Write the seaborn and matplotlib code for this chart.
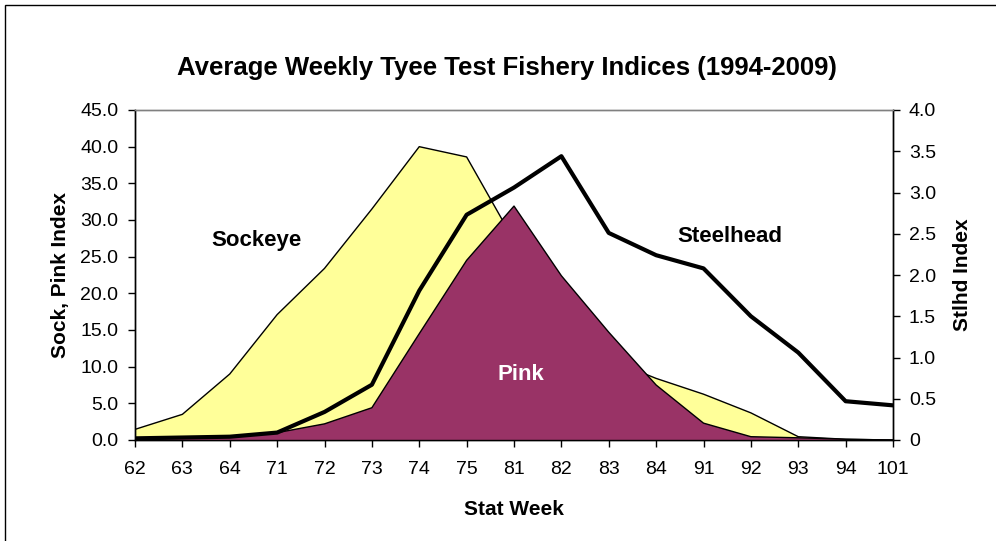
import matplotlib
matplotlib.use("Agg")
import matplotlib.pyplot as plt
import seaborn as sns
import pandas as pd
import numpy as np
from matplotlib.patches import Rectangle

weeks = ["62", "63", "64", "71", "72", "73", "74", "75", "81", "82", "83", "84", "91", "92", "93", "94", "101"]
sockeye = [1.45, 3.5, 9.0, 17.1, 23.4, 31.5, 40.0, 38.6, 27.2, 18.0, 11.0, 8.4, 6.25, 3.7, 0.45, 0.1, 0.0]
pink = [0.2, 0.4, 0.5, 1.0, 2.2, 4.4, 14.5, 24.5, 31.9, 22.4, 14.7, 7.5, 2.3, 0.45, 0.3, 0.1, 0.0]
steelhead = [0.02, 0.03, 0.04, 0.09, 0.34, 0.67, 1.81, 2.73, 3.06, 3.44, 2.51, 2.24, 2.08, 1.5, 1.06, 0.47, 0.42]

df = pd.DataFrame({"pos": np.arange(len(weeks)), "week": weeks,
                   "Sockeye": sockeye, "Pink": pink, "Steelhead": steelhead})

sns.set_theme(style="white")
plt.rcParams['font.family'] = ['Liberation Sans', 'DejaVu Sans']
plt.rcParams['text.color'] = 'black'
plt.rcParams['axes.labelcolor'] = 'black'
plt.rcParams['xtick.color'] = 'black'
plt.rcParams['ytick.color'] = 'black'

fig = plt.figure(figsize=(9.96, 5.41), dpi=100)
ax = fig.add_axes([135/996, 1 - 440/541, (893-135)/996, (440-110)/541])

ax.fill_between(df["pos"], 0, df["Sockeye"], facecolor="#FFFF99", edgecolor="none", zorder=1)
sns.lineplot(data=df, x="pos", y="Sockeye", ax=ax, color="black", linewidth=1.0, zorder=2)
ax.fill_between(df["pos"], 0, df["Pink"], facecolor="#993366", edgecolor="none", zorder=3)
sns.lineplot(data=df, x="pos", y="Pink", ax=ax, color="black", linewidth=1.0, zorder=4)

ax.set_xlim(0, len(weeks) - 1)
ax.set_ylim(0, 45)
ax.set_yticks(np.arange(0, 45.1, 5))
ax.set_yticklabels([f"{v:.1f}" for v in np.arange(0, 45.1, 5)])
ax.set_xticks(df["pos"])
ax.set_xticklabels(weeks)

ax2 = ax.twinx()
sns.lineplot(data=df, x="pos", y="Steelhead", ax=ax2, color="black", linewidth=3.0, zorder=5)
ax2.set_ylim(0, 4)
yt = np.arange(0, 4.01, 0.5)
ax2.set_yticks(yt)
ax2.set_yticklabels(["0"] + [f"{v:.1f}" for v in yt[1:]])
ax2.set_xlim(0, len(weeks) - 1)

for a in (ax, ax2):
    for s in ("left", "right", "bottom"):
        a.spines[s].set_color("black")
        a.spines[s].set_linewidth(1.0)
    a.spines["top"].set_color("#808080")
    a.spines["top"].set_linewidth(1.0)
    a.tick_params(axis="both", direction="out", length=5, width=1, color="black",
                  labelsize=14, labelcolor="black")
ax.tick_params(axis="x", pad=10)
ax.tick_params(axis="y", pad=7)
ax2.tick_params(axis="y", pad=6.5)
ax.tick_params(right=False, left=True, bottom=True)
ax2.tick_params(right=True, left=False, bottom=False)

ax.set_xlabel("Stat Week", fontsize=15, fontweight="bold", labelpad=16)
ax.set_ylabel("Sock, Pink Index", fontsize=15, fontweight="bold", labelpad=7)
ax2.set_ylabel("Stlhd Index", fontsize=15, fontweight="bold", labelpad=12)

ax.patch.set_visible(False)
ax2.set_zorder(3)
ax2.patch.set_visible(False)

fig.text(507/996, 1 - 68/541, "Average Weekly Tyee Test Fishery Indices (1994-2009)",
         ha="center", va="center", fontsize=18.5, fontweight="bold")

labels = [("Sockeye", 256, 240, "black"), ("Steelhead", 730, 237, "black"), ("Pink", 521, 375, "white")]
for txt, px, py, c in labels:
    fig.text(px/996, 1 - py/541, txt, ha="center", va="center",
             fontsize=16, fontweight="bold", color=c, zorder=10)

fig.patches.append(Rectangle((5/996, -0.1), 2, 1 - 5/541 + 0.1, transform=fig.transFigure,
                             fill=False, edgecolor="black", linewidth=1.0, figure=fig))

fig.savefig("out.png", dpi=100)
